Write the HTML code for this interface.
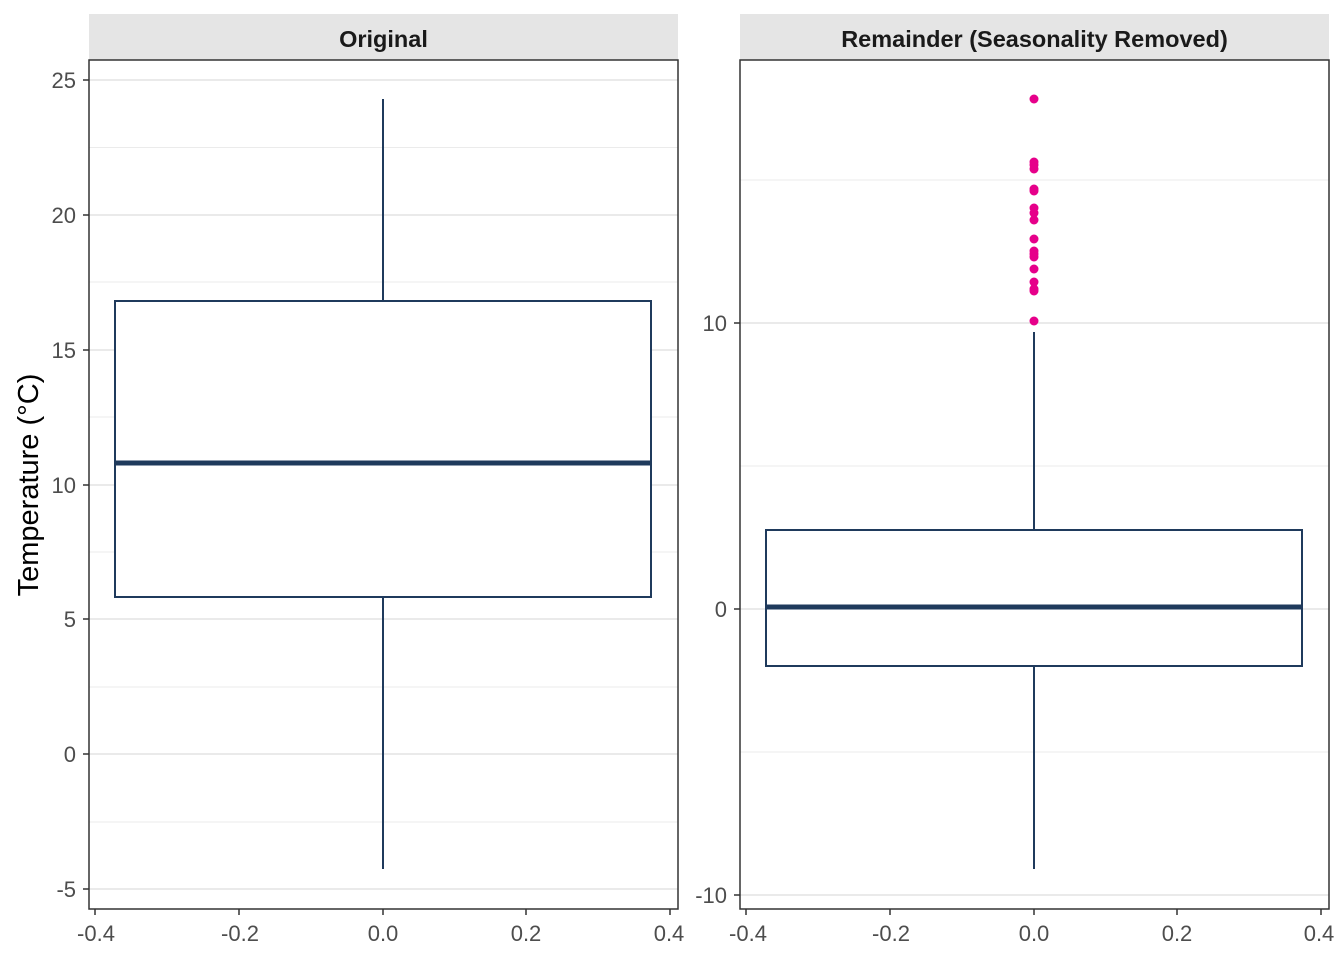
<!DOCTYPE html>
<html><head><meta charset="utf-8"><style>body{margin:0;background:#fff}svg{display:block}</style></head><body>
<svg width="1344" height="960" xmlns="http://www.w3.org/2000/svg" font-family="Liberation Sans, sans-serif">
<rect width="1344" height="960" fill="#fff"/>
<!-- Left panel -->
<rect x="89" y="14" width="589" height="46" fill="#e5e5e5"/>
<text x="383.5" y="47" font-size="23.5" font-weight="bold" text-anchor="middle" fill="#1a1a1a">Original</text>
<g stroke="#ebebeb" stroke-width="1">
<line x1="89" x2="678" y1="147.5" y2="147.5"/><line x1="89" x2="678" y1="282" y2="282"/><line x1="89" x2="678" y1="417" y2="417"/><line x1="89" x2="678" y1="552" y2="552"/><line x1="89" x2="678" y1="687" y2="687"/><line x1="89" x2="678" y1="822" y2="822"/>
</g>
<g stroke="#e3e3e3" stroke-width="1.6">
<line x1="89" x2="678" y1="80" y2="80"/><line x1="89" x2="678" y1="215" y2="215"/><line x1="89" x2="678" y1="350" y2="350"/><line x1="89" x2="678" y1="485" y2="485"/><line x1="89" x2="678" y1="619" y2="619"/><line x1="89" x2="678" y1="754" y2="754"/><line x1="89" x2="678" y1="889" y2="889"/>
</g>
<g stroke="#1f3a5c" fill="none">
<line x1="383" x2="383" y1="99" y2="301" stroke-width="2"/>
<line x1="383" x2="383" y1="597" y2="869" stroke-width="2"/>
<rect x="115" y="301" width="536" height="296" fill="#fff" stroke-width="2"/>
<line x1="115" x2="651" y1="463" y2="463" stroke-width="5"/>
</g>
<rect x="89" y="60" width="589" height="849" fill="none" stroke="#333" stroke-width="1.5"/>
<g stroke="#333" stroke-width="1.5">
<line x1="83" x2="89" y1="80" y2="80"/><line x1="83" x2="89" y1="215" y2="215"/><line x1="83" x2="89" y1="350" y2="350"/><line x1="83" x2="89" y1="485" y2="485"/><line x1="83" x2="89" y1="619" y2="619"/><line x1="83" x2="89" y1="754" y2="754"/><line x1="83" x2="89" y1="889" y2="889"/>
<line x1="95" x2="95" y1="909" y2="915"/><line x1="239" x2="239" y1="909" y2="915"/><line x1="383" x2="383" y1="909" y2="915"/><line x1="526" x2="526" y1="909" y2="915"/><line x1="670" x2="670" y1="909" y2="915"/>
</g>
<g font-size="22" fill="#4d4d4d" text-anchor="end">
<text x="76" y="88">25</text><text x="76" y="223">20</text><text x="76" y="358">15</text><text x="76" y="493">10</text><text x="76" y="627">5</text><text x="76" y="762">0</text><text x="76" y="897">-5</text>
</g>
<g font-size="22" fill="#4d4d4d" text-anchor="middle">
<text x="96" y="941">-0.4</text><text x="240" y="941">-0.2</text><text x="383" y="941">0.0</text><text x="526" y="941">0.2</text><text x="669" y="941">0.4</text>
</g>
<text transform="translate(38,485) rotate(-90)" font-size="29" text-anchor="middle" fill="#000">Temperature (°C)</text>
<!-- Right panel -->
<rect x="740" y="14" width="589" height="46" fill="#e5e5e5"/>
<text x="1034.5" y="47" font-size="23.5" font-weight="bold" text-anchor="middle" fill="#1a1a1a">Remainder (Seasonality Removed)</text>
<g stroke="#ebebeb" stroke-width="1">
<line x1="740" x2="1329" y1="180" y2="180"/><line x1="740" x2="1329" y1="466" y2="466"/><line x1="740" x2="1329" y1="752" y2="752"/>
</g>
<g stroke="#e3e3e3" stroke-width="1.6">
<line x1="740" x2="1329" y1="323" y2="323"/><line x1="740" x2="1329" y1="609" y2="609"/><line x1="740" x2="1329" y1="895" y2="895"/>
</g>
<g stroke="#1f3a5c" fill="none">
<line x1="1034" x2="1034" y1="332" y2="530" stroke-width="2"/>
<line x1="1034" x2="1034" y1="666" y2="869" stroke-width="2"/>
<rect x="766" y="530" width="536" height="136" fill="#fff" stroke-width="2"/>
<line x1="766" x2="1302" y1="607" y2="607" stroke-width="5"/>
</g>
<g fill="#e6008a">
<circle cx="1034" cy="99" r="4.5"/><circle cx="1034" cy="162" r="4.5"/><circle cx="1034" cy="165" r="4.5"/><circle cx="1034" cy="169" r="4.5"/><circle cx="1034" cy="189" r="4.5"/><circle cx="1034" cy="191" r="4.5"/><circle cx="1034" cy="208" r="4.5"/><circle cx="1034" cy="213" r="4.5"/><circle cx="1034" cy="220" r="4.5"/><circle cx="1034" cy="239" r="4.5"/><circle cx="1034" cy="251" r="4.5"/><circle cx="1034" cy="254" r="4.5"/><circle cx="1034" cy="257" r="4.5"/><circle cx="1034" cy="269" r="4.5"/><circle cx="1034" cy="282" r="4.5"/><circle cx="1034" cy="289" r="4.5"/><circle cx="1034" cy="291" r="4.5"/><circle cx="1034" cy="321" r="4.5"/>
</g>
<rect x="740" y="60" width="589" height="849" fill="none" stroke="#333" stroke-width="1.5"/>
<g stroke="#333" stroke-width="1.5">
<line x1="734" x2="740" y1="323" y2="323"/><line x1="734" x2="740" y1="609" y2="609"/><line x1="734" x2="740" y1="895" y2="895"/>
<line x1="746" x2="746" y1="909" y2="915"/><line x1="890" x2="890" y1="909" y2="915"/><line x1="1034" x2="1034" y1="909" y2="915"/><line x1="1177" x2="1177" y1="909" y2="915"/><line x1="1321" x2="1321" y1="909" y2="915"/>
</g>
<g font-size="22" fill="#4d4d4d" text-anchor="end">
<text x="727" y="331">10</text><text x="727" y="617">0</text><text x="727" y="903">-10</text>
</g>
<g font-size="22" fill="#4d4d4d" text-anchor="middle">
<text x="748" y="941">-0.4</text><text x="891" y="941">-0.2</text><text x="1034" y="941">0.0</text><text x="1177" y="941">0.2</text><text x="1319" y="941">0.4</text>
</g>
</svg>
</body></html>
